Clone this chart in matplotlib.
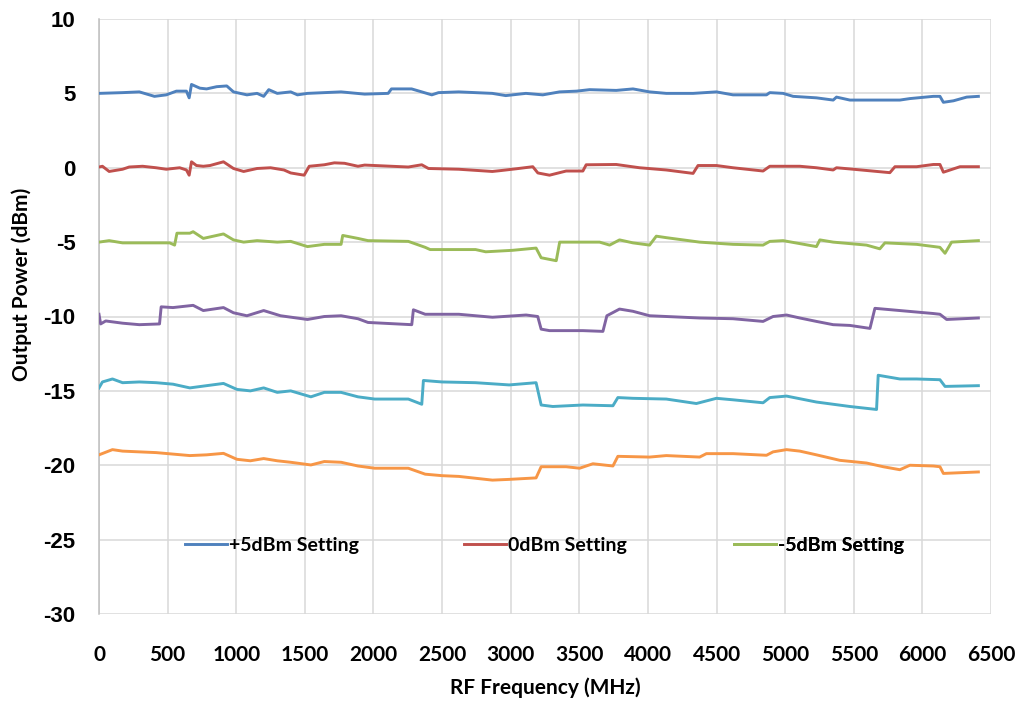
import matplotlib
matplotlib.use("Agg")
import matplotlib.pyplot as plt

plt.rcParams["axes.unicode_minus"] = False

# ---- data (MHz, dBm) ----
f_p5 = [0, 172, 294, 404, 490, 564, 637, 657, 674, 735, 784, 858, 931, 980, 1078, 1152, 1200, 1237,
        1299, 1397, 1446, 1519, 1764, 1936, 2107, 2131, 2278, 2352, 2425, 2474, 2621, 2866, 2964,
        3111, 3234, 3356, 3479, 3575, 3769, 3891, 4012, 4134, 4329, 4499, 4620, 4864, 4888, 4985,
        5058, 5228, 5350, 5374, 5472, 5836, 5909, 6080, 6128, 6153, 6226, 6323, 6408]
v_p5 = [5.0, 5.05, 5.1, 4.8, 4.9, 5.15, 5.15, 4.7, 5.6, 5.35, 5.3, 5.45, 5.5, 5.1, 4.9, 5.0, 4.8, 5.25,
        5.0, 5.1, 4.9, 5.0, 5.1, 4.95, 5.0, 5.3, 5.3, 5.1, 4.9, 5.05, 5.1, 5.0, 4.85,
        5.0, 4.9, 5.1, 5.15, 5.25, 5.2, 5.3, 5.1, 5.0, 5.0, 5.1, 4.9, 4.9, 5.05, 5.0,
        4.8, 4.7, 4.55, 4.75, 4.55, 4.55, 4.65, 4.8, 4.8, 4.4, 4.5, 4.75, 4.8]

f_0 = [0, 25, 74, 172, 220, 318, 416, 490, 588, 637, 657, 674, 710, 760, 809, 907, 980, 1054, 1152,
       1250, 1348, 1397, 1495, 1532, 1642, 1715, 1789, 1887, 1936, 2131, 2254, 2352, 2401, 2621,
       2866, 2918, 3040, 3161, 3198, 3283, 3404, 3526, 3550, 3769, 3939, 4134, 4329, 4365, 4499,
       4620, 4839, 4888, 5107, 5228, 5350, 5374, 5496, 5763, 5800, 5958, 6080, 6128, 6153, 6274, 6408]
v_0 = [0.05, 0.1, -0.25, -0.1, 0.05, 0.1, 0.0, -0.1, 0.0, -0.15, -0.5, 0.4, 0.15, 0.1, 0.15, 0.4, -0.05,
       -0.25, -0.05, 0.0, -0.15, -0.35, -0.5, 0.1, 0.2, 0.33, 0.3, 0.1, 0.18, 0.1, 0.05, 0.2, -0.05,
       -0.1, -0.25, -0.2, -0.07, 0.07, -0.35, -0.5, -0.22, -0.22, 0.2, 0.22, 0.0, -0.15, -0.38, 0.15,
       0.15, 0.0, -0.22, 0.1, 0.1, 0.0, -0.15, 0.0, -0.1, -0.33, 0.07, 0.07, 0.22, 0.22, -0.3, 0.07, 0.07]

f_m5 = [0, 74, 172, 343, 515, 551, 568, 662, 686, 760, 809, 907, 980, 1054, 1152, 1299, 1397, 1519,
        1642, 1764, 1776, 1887, 1960, 2254, 2377, 2413, 2744, 2818, 3014, 3185, 3222, 3332, 3357,
        3648, 3721, 3793, 3891, 4012, 4061, 4134, 4377, 4620, 4839, 4888, 4985, 5228, 5253, 5350,
        5593, 5690, 5727, 5958, 6128, 6165, 6213, 6408]
v_m5 = [-5.0, -4.9, -5.05, -5.05, -5.05, -5.2, -4.4, -4.4, -4.3, -4.75, -4.65, -4.45, -4.85, -5.0, -4.9,
        -5.0, -4.95, -5.3, -5.15, -5.15, -4.55, -4.75, -4.9, -4.95, -5.35, -5.5, -5.5, -5.65, -5.55,
        -5.4, -6.05, -6.25, -5.0, -5.0, -5.2, -4.85, -5.05, -5.2, -4.6, -4.7, -5.0, -5.15, -5.2,
        -4.95, -4.9, -5.3, -4.85, -5.0, -5.2, -5.45, -5.05, -5.15, -5.35, -5.75, -5.0, -4.9]

f_m10 = [0, 12, 49, 172, 294, 441, 453, 539, 686, 760, 907, 980, 1078, 1200, 1323, 1519, 1642, 1764,
         1887, 1960, 2279, 2291, 2377, 2622, 2867, 3112, 3197, 3222, 3283, 3526, 3672, 3701, 3793,
         3891, 4012, 4377, 4620, 4839, 4912, 5010, 5107, 5228, 5350, 5472, 5618, 5654, 5836, 6080,
         6128, 6177, 6408]
v_m10 = [-9.85, -10.5, -10.3, -10.45, -10.55, -10.5, -9.35, -9.4, -9.25, -9.6, -9.4, -9.75, -9.95, -9.6,
         -9.95, -10.2, -10.0, -9.95, -10.15, -10.4, -10.55, -9.55, -9.85, -9.85, -10.05, -9.9, -10.0,
         -10.85, -10.95, -10.95, -11.0, -9.95, -9.5, -9.65, -9.95, -10.1, -10.15, -10.33, -10.0, -9.9,
         -10.1, -10.33, -10.55, -10.6, -10.8, -9.45, -9.6, -9.8, -9.85, -10.2, -10.1]

f_m15 = [0, 25, 98, 172, 294, 417, 539, 662, 784, 907, 1005, 1103, 1200, 1299, 1397, 1544, 1642, 1764,
         1887, 2009, 2254, 2352, 2364, 2499, 2744, 2989, 3185, 3222, 3307, 3526, 3745, 3781, 3891,
         4134, 4353, 4499, 4620, 4839, 4888, 5010, 5228, 5350, 5472, 5666, 5678, 5836, 5958, 6128,
         6165, 6408]
v_m15 = [-14.8, -14.4, -14.2, -14.45, -14.4, -14.45, -14.55, -14.8, -14.65, -14.5, -14.9, -15.0, -14.8,
         -15.1, -15.0, -15.4, -15.1, -15.1, -15.4, -15.55, -15.55, -15.9, -14.3, -14.4, -14.45, -14.6,
         -14.45, -15.95, -16.05, -15.95, -16.0, -15.45, -15.5, -15.55, -15.85, -15.5, -15.6, -15.8,
         -15.45, -15.35, -15.75, -15.9, -16.05, -16.25, -13.95, -14.2, -14.2, -14.25, -14.7, -14.65]

f_m20 = [0, 98, 172, 294, 417, 539, 662, 784, 907, 1005, 1103, 1200, 1299, 1397, 1544, 1642, 1764, 1887,
         2009, 2254, 2377, 2499, 2622, 2867, 2989, 3185, 3222, 3404, 3502, 3599, 3745, 3781, 4012,
         4134, 4377, 4426, 4620, 4864, 4912, 5010, 5107, 5228, 5399, 5593, 5715, 5836, 5909, 6080,
         6128, 6153, 6408]
v_m20 = [-19.3, -18.95, -19.05, -19.1, -19.15, -19.25, -19.35, -19.3, -19.2, -19.6, -19.7, -19.55, -19.7,
         -19.8, -19.98, -19.75, -19.8, -20.05, -20.2, -20.2, -20.6, -20.7, -20.75, -21.0, -20.95,
         -20.85, -20.1, -20.1, -20.2, -19.9, -20.05, -19.4, -19.45, -19.35, -19.45, -19.22, -19.22,
         -19.33, -19.1, -18.95, -19.05, -19.3, -19.67, -19.85, -20.1, -20.3, -20.0, -20.05, -20.1,
         -20.55, -20.45]

series = [
    ("+5dBm Setting", f_p5, v_p5, "#4F81BD"),
    ("0dBm Setting", f_0, v_0, "#C0504D"),
    ("-5dBm Setting", f_m5, v_m5, "#9BBB59"),
    ("-10dBm Setting", f_m10, v_m10, "#8064A2"),
    ("-15dBm Setting", f_m15, v_m15, "#4BACC6"),
    ("-20dBm Setting", f_m20, v_m20, "#F79646"),
]
legend_names = ["+5dBm Setting", "0dBm Setting", "-5dBm Setting"]

x_ticks = list(range(0, 6501, 500))
y_ticks = list(range(-30, 11, 5))

# ---- figure ----
W, H = 1021, 705
fig = plt.figure(figsize=(W / 100, H / 100), dpi=100)
ax_l, ax_r, ax_t, ax_b = 99, 991, 19, 614
ax = fig.add_axes([ax_l / W, 1 - ax_b / H, (ax_r - ax_l) / W, (ax_b - ax_t) / H])

lines = {}
for name, fx, vy, col in series:
    ln, = ax.plot(fx, vy, color=col, lw=2.1, solid_joinstyle="round", zorder=3)
    lines[name] = ln

ax.set_xlim(0, 6500)
ax.set_ylim(-30, 10)
ax.set_xticks(x_ticks)
ax.set_yticks(y_ticks)
ax.grid(True, color="#D9D9D9", lw=1.1, zorder=0)
ax.set_axisbelow(True)
for s in ["top", "right", "bottom"]:
    ax.spines[s].set_visible(False)
ax.spines["left"].set_color("#BFBFBF")
ax.spines["left"].set_linewidth(1.1)
ax.tick_params(length=0)

for lab in ax.get_yticklabels():
    lab.set_fontfamily("Liberation Sans")
    lab.set_fontweight("bold")
    lab.set_fontsize(16)
ax.tick_params(axis="y", pad=17)
for lab in ax.get_xticklabels():
    lab.set_fontfamily("Lato")
    lab.set_fontweight("bold")
    lab.set_fontsize(15)
ax.tick_params(axis="x", pad=22)

ax.set_xlabel("RF Frequency (MHz)", fontfamily="Lato", fontweight="bold", fontsize=15, va="top")
ax.xaxis.set_label_coords(0.5, (ax_b - 677) / (ax_b - ax_t))
fig.text(22 / W, 1 - 284 / H, "Output Power (dBm)", rotation=90, ha="center", va="center",
         fontfamily="Lato", fontweight="bold", fontsize=15)

# legend: three separate entries spread across the plot
leg_pos = [185, 464, 734]
for name, px in zip(legend_names, leg_pos):
    lg = ax.legend(handles=[lines[name]], labels=[name], loc="center left",
                   bbox_to_anchor=((px - ax_l) / (ax_r - ax_l), (ax_b - 545) / (ax_b - ax_t)),
                   frameon=False, handlelength=2.15, handletextpad=0.1, borderpad=0,
                   borderaxespad=0,
                   prop={"family": "Lato", "weight": "bold", "size": 14})
    ax.add_artist(lg)

fig.savefig("out.png", dpi=100, facecolor="white")
